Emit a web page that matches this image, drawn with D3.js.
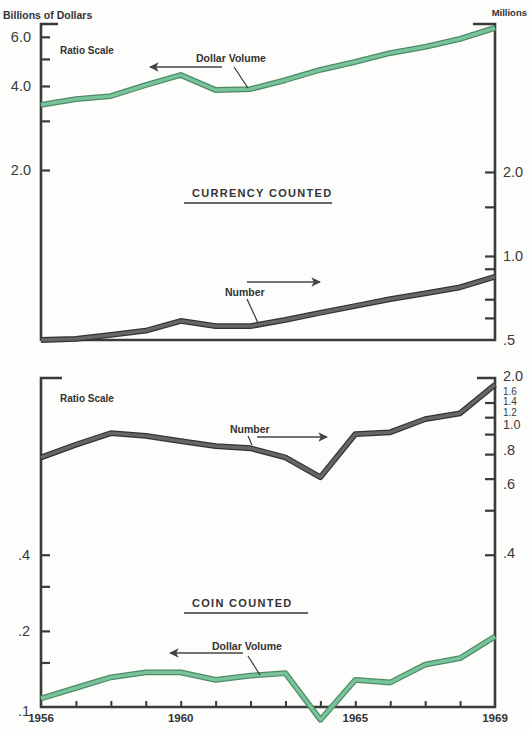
<!DOCTYPE html>
<html>
<head>
<meta charset="utf-8">
<script src="https://cdn.jsdelivr.net/npm/d3@7"></script>
<style>
body {margin:0; background:#fdfdfb;}
text {font-family:"Liberation Sans", Arial, sans-serif; fill:#333;}
.lbl {font-weight:bold; font-size:10.5px;}
.num {font-size:14.5px; fill:#3a3a3a;}
</style>
</head>
<body>
<div id="chart"></div>
<script>
//values
var years = [1956,1957,1958,1959,1960,1961,1962,1963,1964,1965,1966,1967,1968,1969];
var currencyDollars = [3.42,3.59,3.68,4.03,4.38,3.87,3.90,4.20,4.57,4.88,5.25,5.52,5.90,6.46]; // billions
var currencyNumber = [0.50,0.505,0.522,0.540,0.585,0.561,0.561,0.590,0.626,0.662,0.701,0.735,0.772,0.843]; // millions
var coinNumber = [0.97,1.09,1.21,1.18,1.125,1.075,1.055,0.97,0.81,1.20,1.22,1.375,1.45,1.88];
var coinDollars = [0.108,0.119,0.131,0.137,0.137,0.128,0.133,0.136,0.089,0.128,0.125,0.147,0.156,0.190];

var topLeftTicks = [6,5,4,3,2], topLeftLabels = ['6.0','4.0','2.0'], topLeftLabelVals = [6,4,2];
var topRightTicks = [2,1.5,1,0.9,0.7,0.6], topRightLabels = ['2.0','1.0','.5'], topRightLabelVals = [2,1,0.5];
var botLeftTicks = [0.4,0.3,0.2,0.15], botLeftLabels = ['.4','.2','.1'], botLeftLabelVals = [0.4,0.2,0.1];
var botRightTicks = [1.6,1.4,1.2,1,0.8,0.6,0.4], botRightLabels = ['2.0','1.6','1.4','1.2','1.0','.8','.6','.4'], botRightLabelVals = [2,1.6,1.4,1.2,1,0.8,0.6,0.4];
var yearLabels = [1956,1960,1965,1969];

var width = 530, height = 729;
var svg = d3.select('#chart').append('svg')
	.attr('width',width)
	.attr('height',height);

var x = d3.scaleLinear().domain([1956,1969]).range([41,495]);
var yTopL = d3.scaleLog().domain([0.492,6.67]).range([340,24]);
var yTopR = d3.scaleLog().domain([0.5,6.78]).range([340,24]);
var yBot = d3.scaleLog().domain([0.1,2.0]).range([707,378]);

var ink = '#3b3b3b';

//frames
function frame(top,bottom,capL,capR){
	var g = svg.append('g').attr('fill','none').attr('stroke',ink).attr('stroke-width',2.6);
	g.append('path').attr('d','M'+(41+capL)+','+top+'H41V'+bottom+'H495V'+top+'H'+(495-capR));
}
frame(yTopR.range()[1],340,17,22);
frame(yBot.range()[1],707,21,18);

//tick marks
function ticks(axis,scale,xpos,vals,size){
	svg.append('g')
		.attr('transform','translate('+xpos+',0)')
		.call(axis(scale).tickValues(vals).tickSize(size).tickFormat(''))
		.call(function(g){
			g.select('.domain').remove();
			g.selectAll('line').attr('stroke',ink).attr('stroke-width',2.2);
		});
}
ticks(d3.axisRight,yTopL,41,topLeftTicks,9);
ticks(d3.axisLeft,yTopR,495,topRightTicks,10);
ticks(d3.axisRight,yBot,41,botLeftTicks,9);
ticks(d3.axisLeft,yBot,495,botRightTicks,10);

svg.append('g')
	.attr('transform','translate(0,707)')
	.call(d3.axisTop(x).tickValues(years.slice(1,-1)).tickSize(6).tickFormat(''))
	.call(function(g){
		g.select('.domain').remove();
		g.selectAll('line').attr('stroke',ink).attr('stroke-width',2);
	});

//tick labels (shift: the printed labels do not all sit on their ticks)
function labels(texts,vals,scale,xpos,anchor,shift,sizes){
	svg.append('g').selectAll('text')
		.data(texts)
		.enter().append('text')
		.attr('class','num')
		.attr('x',xpos)
		.attr('y',function(d,i){return scale(vals[i]) + (shift ? shift[i] : 0);})
		.attr('dy','0.36em')
		.attr('text-anchor',anchor)
		.style('font-size',function(d,i){return sizes ? sizes[i]+'px' : null;})
		.text(function(d){return d;});
}
labels(topLeftLabels,topLeftLabelVals,yTopL,31,'end');
labels(topRightLabels,topRightLabelVals,yTopR,503,'start');
labels(botLeftLabels,botLeftLabelVals,yBot,30,'end',[0,0,4]);
labels(botRightLabels,botRightLabelVals,yBot,503,'start',
	[-2,-11.5,-16,-22,-30,-29,-26,-2],
	[14.5,10,10,10,12.5,14.5,14.5,14.5]);

svg.append('g').selectAll('text')
	.data(yearLabels)
	.enter().append('text')
	.attr('class','lbl')
	.attr('x',function(d){return x(d);})
	.attr('y',722)
	.attr('text-anchor','middle')
	.style('font-size','11.5px')
	.text(function(d){return d;});

//series lines, a dark casing under a lighter band
function series(vals,scale,outer,inner){
	var line = d3.line()
		.x(function(d,i){return x(years[i]);})
		.y(function(d){return scale(d);});
	svg.append('path').datum(vals).attr('d',line)
		.attr('fill','none').attr('stroke',outer).attr('stroke-width',5.8).attr('stroke-linejoin','round');
	svg.append('path').datum(vals).attr('d',line)
		.attr('fill','none').attr('stroke',inner).attr('stroke-width',3.3).attr('stroke-linejoin','round');
}
series(currencyDollars,yTopL,'#4f8a67','#78c49a');
series(currencyNumber,yTopR,'#333','#676767');
series(coinNumber,yBot,'#333','#676767');
series(coinDollars,yBot,'#4f8a67','#78c49a');

//arrow heads
var defs = svg.append('defs');
defs.append('marker').attr('id','head')
	.attr('viewBox','0 0 10 10').attr('refX',9).attr('refY',5)
	.attr('markerWidth',6).attr('markerHeight',6).attr('orient','auto')
	.append('path').attr('d','M0,0L10,5L0,10L2.5,5Z').attr('fill','#444');

function arrow(x1,y1,x2,y2){
	svg.append('line').attr('x1',x1).attr('y1',y1).attr('x2',x2).attr('y2',y2)
		.attr('stroke','#444').attr('stroke-width',1.6).attr('marker-end','url(#head)');
}
function leader(x1,y1,x2,y2){
	svg.append('line').attr('x1',x1).attr('y1',y1).attr('x2',x2).attr('y2',y2)
		.attr('stroke','#333').attr('stroke-width',1.2);
}
function note(t,xx,yy,size){
	svg.append('text').attr('class','lbl').attr('x',xx).attr('y',yy)
		.style('font-size',(size||10.5)+'px').text(t);
}

//labels
note('Billions of Dollars',3,19,10.5);
svg.append('text').attr('class','lbl').attr('x',527).attr('y',16)
	.attr('text-anchor','end').style('font-size','9.5px').text('Millions');
note('Ratio Scale',60,54,10);
note('Ratio Scale',60,402,10);

note('Dollar Volume',196,62,10.5);
arrow(222,67,150,67);
leader(234,67,248,88);

note('Number',225,296,10.5);
arrow(247,282,320,282);
leader(247,299,258,323);

note('Number',230,433,10.5);
arrow(257,437,327,437);
leader(248,436,252,445);

note('Dollar Volume',212,650,10.5);
arrow(243,653,170,653);
leader(248,656,260,675);

//panel titles
function title(t,xx,yy,w){
	svg.append('text').attr('class','lbl').attr('x',xx).attr('y',yy)
		.style('font-size','11px').style('letter-spacing','1.3px').text(t);
	svg.append('line').attr('x1',xx-8).attr('x2',xx-8+w).attr('y1',yy+6).attr('y2',yy+6)
		.attr('stroke','#333').attr('stroke-width',1.6);
}
title('CURRENCY COUNTED',192,197,148);
title('COIN COUNTED',192,607,124);
</script>
</body>
</html>
